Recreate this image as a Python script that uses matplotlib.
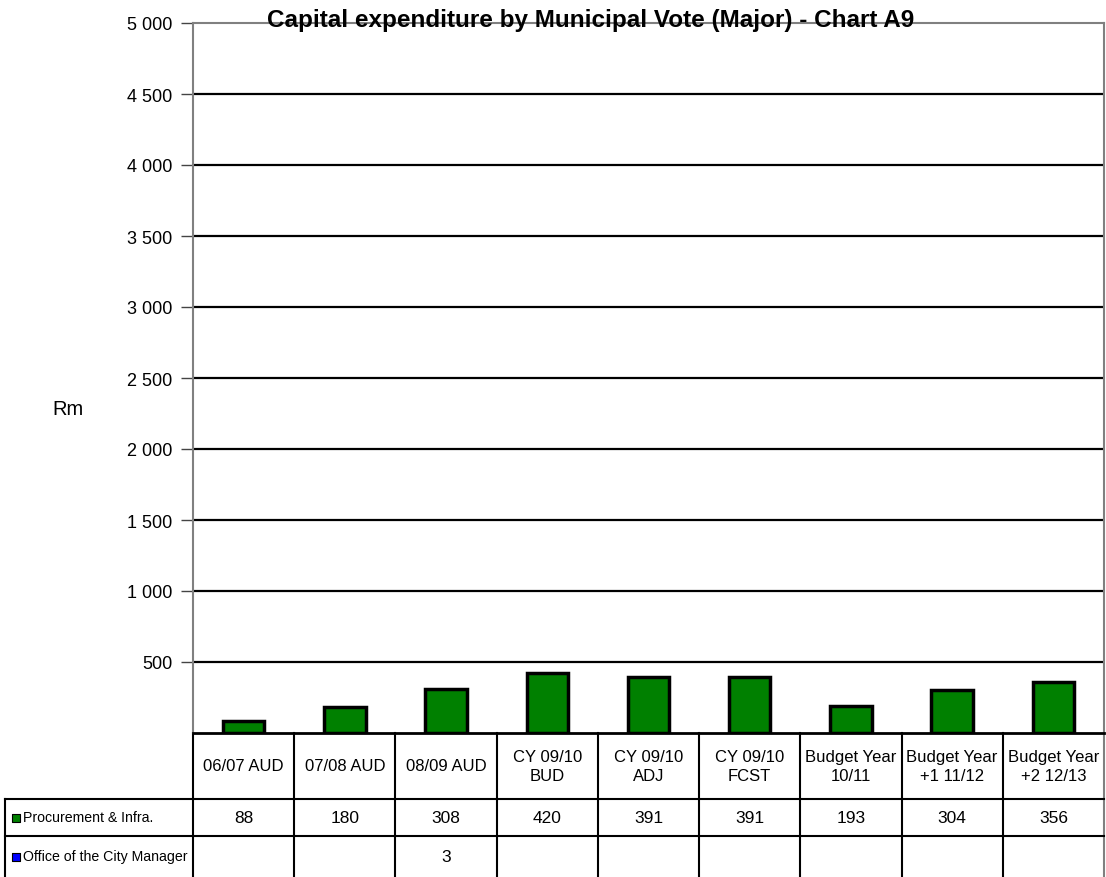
import matplotlib.pyplot as plt
import numpy as np

categories = ["06/07 AUD", "07/08 AUD", "08/09 AUD", "CY 09/10\nBUD", "CY 09/10\nADJ",
              "CY 09/10\nFCST", "Budget Year\n10/11", "Budget Year\n+1 11/12", "Budget Year\n+2 12/13"]
procurement = [88, 180, 308, 420, 391, 391, 193, 304, 356]
city_manager = [None, None, 3, None, None, None, None, None, None]
series_names = ["Procurement & Infra.", "Office of the City Manager"]
series_colors = ["#008000", "#0000ff"]
yticks = [500, 1000, 1500, 2000, 2500, 3000, 3500, 4000, 4500, 5000]

font = ["Liberation Sans", "DejaVu Sans"]

W, H = 1106, 878
fig = plt.figure(figsize=(W / 100, H / 100), dpi=100)
# plot area in pixel terms: left 193, right 1104, top 24, bottom 734
ax = fig.add_axes([193 / W, (H - 734) / H, (1104 - 193) / W, (734 - 24) / H])

x = np.arange(len(categories))
ax.bar(x, procurement, width=0.41, color=series_colors[0], edgecolor="black", linewidth=2.5, zorder=3)
office = [v if v is not None else 0 for v in city_manager]
ax.bar(x, office, width=0.41, bottom=procurement, color=series_colors[1], edgecolor="black",
       linewidth=0.5, zorder=3)

ax.set_xlim(-0.5, len(categories) - 0.5)
ax.set_ylim(0, 5000)
ax.set_yticks(yticks)
ax.set_yticklabels([f"{v:,}".replace(",", " ") for v in yticks], family=font, fontsize=13)
ax.set_xticks([])
for v in yticks[:-1]:
    ax.axhline(v, color="black", linewidth=1.6, zorder=1)
ax.tick_params(axis="y", length=9, width=1, color="#444444", pad=6)
for side in ["left", "top", "right"]:
    ax.spines[side].set_color("#808080")
    ax.spines[side].set_linewidth(1.5)
ax.spines["bottom"].set_color("black")
ax.spines["bottom"].set_linewidth(2)

fig.text(591 / W, 1 - 21 / H, "Capital expenditure by Municipal Vote (Major) - Chart A9",
         ha="center", va="center", fontsize=17.5, fontweight="bold", family=font)
fig.text(68 / W, 1 - 410 / H, "Rm", ha="center", va="center", fontsize=14.5, family=font)

# data table under the plot
tr = ax.get_xaxis_transform()
px = 710.0
r_head = -66 / px
r_one = -103 / px
r_two = -144 / px
col_w = 911 / 9
left = -0.5 - 188 / col_w
n = len(categories)
line_kw = dict(transform=tr, clip_on=False, color="black", linewidth=1.5)
for k in range(n + 1):
    xs = k - 0.5
    col = "#808080" if k == n else "black"
    ax.plot([xs, xs], [0, r_two - 0.01], **{**line_kw, "color": col})
ax.plot([left, left], [r_head, r_two - 0.01], **line_kw)
ax.plot([left, n - 0.5], [r_head, r_head], **line_kw)
ax.plot([left, n - 0.5], [r_one, r_one], **line_kw)

for i, c in enumerate(categories):
    ax.text(i, r_head / 2, c, transform=tr, ha="center", va="center", fontsize=12,
            family=font, linespacing=1.35)
rows = [procurement, city_manager]
row_mid = [(r_head + r_one) / 2, (r_one + r_two) / 2]
for r, vals in enumerate(rows):
    # small legend key in front of the row name
    ax.scatter([left + 7 / col_w + 0.035], [row_mid[r]], marker="s", s=38, color=series_colors[r],
               edgecolors="black", linewidths=0.8, transform=tr, clip_on=False, zorder=4)
    ax.text(left + 18 / col_w, row_mid[r], series_names[r], transform=tr, ha="left", va="center",
            fontsize=10.2, family=font)
    for i, v in enumerate(vals):
        if v is not None:
            ax.text(i, row_mid[r], str(v), transform=tr, ha="center", va="center",
                    fontsize=12.5, family=font)

fig.savefig("out.png", dpi=100)
